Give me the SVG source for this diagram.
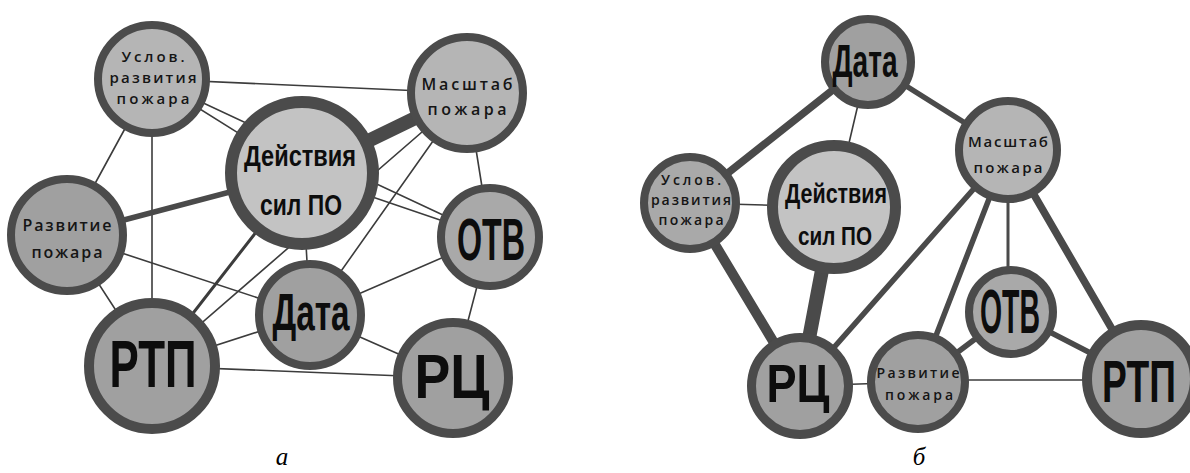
<svg xmlns="http://www.w3.org/2000/svg" width="1190" height="473" viewBox="0 0 1190 473">
<style>
.bg{fill:#ffffff}
.e{stroke:#3c3c3c;stroke-linecap:round;fill:none}
.t1{stroke-width:1.6}
.t2{stroke-width:3}
.t3{stroke-width:5.5}
.t4{stroke-width:7.5}
.t5{stroke-width:10}
.t6{stroke-width:14}
.eb{stroke:#4a4a4a}
.n{stroke:#4b4b4b}
.L{fill:#c3c3c3}.M{fill:#b5b5b5}.D{fill:#a0a0a0}.K{fill:#a9a9a9}
.big{font-family:"Liberation Sans",Arial,sans-serif;font-weight:bold;fill:#0d0d0d;text-anchor:middle}
.sm{font-family:"Open Sans","DejaVu Sans",sans-serif;font-weight:600;fill:#151515;text-anchor:middle}
.cap{font-family:"Liberation Serif","Times New Roman",serif;font-style:italic;font-size:25px;fill:#000;text-anchor:middle}
</style>
<rect class="bg" x="0" y="0" width="1190" height="473"/>
<g id="connectors">
  <!-- diagram a -->
  <line class="e t1" x1="152" y1="79" x2="467" y2="93"/>
  <line class="e t1" x1="152" y1="79" x2="302" y2="173"/>
  <line class="e t1" x1="152" y1="79" x2="490" y2="237"/>
  <line class="e t1" x1="152" y1="79" x2="67" y2="235"/>
  <line class="e t1" x1="152" y1="79" x2="152" y2="366"/>
  <line class="e eb t6" x1="467" y1="93" x2="302" y2="173"/>
  <line class="e t1" x1="467" y1="93" x2="152" y2="366"/>
  <line class="e t1" x1="467" y1="93" x2="310" y2="315"/>
  <line class="e t1" x1="467" y1="93" x2="490" y2="237"/>
  <line class="e eb t3" x1="67" y1="235" x2="302" y2="173"/>
  <line class="e t1" x1="67" y1="235" x2="152" y2="366"/>
  <line class="e t1" x1="67" y1="235" x2="310" y2="315"/>
  <line class="e t1" x1="302" y1="173" x2="490" y2="237"/>
  <line class="e t2" x1="302" y1="173" x2="152" y2="366"/>
  <line class="e t1" x1="302" y1="173" x2="310" y2="315"/>
  <line class="e t1" x1="310" y1="315" x2="490" y2="237"/>
  <line class="e t1" x1="310" y1="315" x2="453" y2="378"/>
  <line class="e t1" x1="310" y1="315" x2="152" y2="366"/>
  <line class="e t1" x1="152" y1="366" x2="453" y2="378"/>
  <line class="e t1" x1="490" y1="237" x2="453" y2="378"/>
  <!-- diagram b -->
  <line class="e eb t4" x1="868" y1="62" x2="690" y2="203"/>
  <line class="e t1" x1="868" y1="62" x2="834" y2="207"/>
  <line class="e eb t3" x1="868" y1="62" x2="1008" y2="150"/>
  <line class="e t1" x1="690" y1="203" x2="834" y2="207"/>
  <line class="e eb t5" x1="690" y1="203" x2="800" y2="386"/>
  <line class="e eb t6" x1="834" y1="207" x2="800" y2="386"/>
  <line class="e eb t3" x1="1008" y1="150" x2="800" y2="386"/>
  <line class="e t1" x1="800" y1="386" x2="918" y2="382"/>
  <line class="e eb t3" x1="1008" y1="150" x2="918" y2="382"/>
  <line class="e eb t2" x1="1008" y1="150" x2="1008" y2="312"/>
  <line class="e eb t4" x1="1008" y1="150" x2="1141" y2="379"/>
  <line class="e eb t3" x1="918" y1="382" x2="1011" y2="312"/>
  <line class="e eb t3" x1="1011" y1="312" x2="1141" y2="379"/>
  <line class="e t1" x1="918" y1="380" x2="1141" y2="380"/>
</g>
<!-- diagram a nodes -->
<g id="a-uslov"><circle class="n M" cx="152" cy="79" r="54" stroke-width="8"/>
  <text class="sm" x="153" y="62" font-size="15" textLength="63" lengthAdjust="spacing">Услов.</text>
  <text class="sm" x="153" y="83" font-size="15" textLength="87" lengthAdjust="spacing">развития</text>
  <text class="sm" x="153" y="104" font-size="15" textLength="73" lengthAdjust="spacing">пожара</text></g>
<g id="a-masshtab"><circle class="n M" cx="467" cy="93" r="56" stroke-width="8"/>
  <text class="sm" x="467" y="90" font-size="16" textLength="91" lengthAdjust="spacing">Масштаб</text>
  <text class="sm" x="467" y="115" font-size="16" textLength="79" lengthAdjust="spacing">пожара</text></g>
<g id="a-deistviya"><circle class="n L" cx="302" cy="173" r="71" stroke-width="12"/>
  <text class="big" x="300" y="166" font-size="30" textLength="112" lengthAdjust="spacingAndGlyphs">Действия</text>
  <text class="big" x="301" y="215" font-size="29" textLength="82" lengthAdjust="spacingAndGlyphs">сил ПО</text></g>
<g id="a-razvitie"><circle class="n D" cx="67" cy="235" r="56" stroke-width="8"/>
  <text class="sm" x="67" y="231" font-size="16" textLength="89" lengthAdjust="spacing">Развитие</text>
  <text class="sm" x="67" y="258" font-size="16" textLength="71" lengthAdjust="spacing">пожара</text></g>
<g id="a-otv"><circle class="n K" cx="490" cy="237" r="49" stroke-width="8"/>
  <text class="big" x="491" y="260" font-size="60" textLength="68" lengthAdjust="spacingAndGlyphs">ОТВ</text></g>
<g id="a-data"><circle class="n D" cx="310" cy="315" r="51" stroke-width="8"/>
  <text class="big" x="311" y="330" font-size="52" textLength="77" lengthAdjust="spacingAndGlyphs">Дата</text></g>
<g id="a-rtp"><circle class="n D" cx="152" cy="366" r="63" stroke-width="10"/>
  <text class="big" x="153" y="387" font-size="66" textLength="87" lengthAdjust="spacingAndGlyphs">РТП</text></g>
<g id="a-rc"><circle class="n D" cx="453" cy="378" r="55.5" stroke-width="9"/>
  <text class="big" x="452" y="398" font-size="63" textLength="75" lengthAdjust="spacingAndGlyphs">РЦ</text></g>
<!-- diagram b nodes -->
<g id="b-data"><circle class="n D" cx="868" cy="62" r="43" stroke-width="8"/>
  <text class="big" x="865" y="77" font-size="47" textLength="65" lengthAdjust="spacingAndGlyphs">Дата</text></g>
<g id="b-masshtab"><circle class="n M" cx="1008" cy="150" r="49" stroke-width="8"/>
  <text class="sm" x="1008" y="147" font-size="15" textLength="80" lengthAdjust="spacing">Масштаб</text>
  <text class="sm" x="1008" y="173" font-size="15" textLength="69" lengthAdjust="spacing">пожара</text></g>
<g id="b-uslov"><circle class="n K" cx="690" cy="203" r="46" stroke-width="8"/>
  <text class="sm" x="691" y="185" font-size="14" textLength="60" lengthAdjust="spacing">Услов.</text>
  <text class="sm" x="691" y="205" font-size="14" textLength="80" lengthAdjust="spacing">развития</text>
  <text class="sm" x="691" y="225" font-size="14" textLength="65" lengthAdjust="spacing">пожара</text></g>
<g id="b-deistviya"><circle class="n L" cx="834" cy="207" r="61.5" stroke-width="11"/>
  <text class="big" x="836" y="203" font-size="27" textLength="102" lengthAdjust="spacingAndGlyphs">Действия</text>
  <text class="big" x="835" y="245" font-size="26" textLength="74" lengthAdjust="spacingAndGlyphs">сил ПО</text></g>
<g id="b-rc"><circle class="n D" cx="800" cy="386" r="48.5" stroke-width="9"/>
  <text class="big" x="798" y="402" font-size="54" textLength="63" lengthAdjust="spacingAndGlyphs">РЦ</text></g>
<g id="b-razvitie"><circle class="n D" cx="918" cy="382" r="47" stroke-width="8"/>
  <text class="sm" x="918" y="378" font-size="14" textLength="83" lengthAdjust="spacing">Развитие</text>
  <text class="sm" x="919" y="400" font-size="14" textLength="68" lengthAdjust="spacing">пожара</text></g>
<g id="b-otv"><circle class="n K" cx="1011" cy="312" r="42" stroke-width="8"/>
  <text class="big" x="1010" y="333" font-size="63" textLength="60" lengthAdjust="spacingAndGlyphs">ОТВ</text></g>
<g id="b-rtp"><circle class="n D" cx="1141" cy="379" r="54" stroke-width="10"/>
  <text class="big" x="0" y="0" font-size="60" transform="translate(1139 402) scale(0.62 1)">РТП</text></g>
<text class="cap" x="282" y="465">а</text>
<text class="cap" x="919" y="465">б</text>
</svg>
